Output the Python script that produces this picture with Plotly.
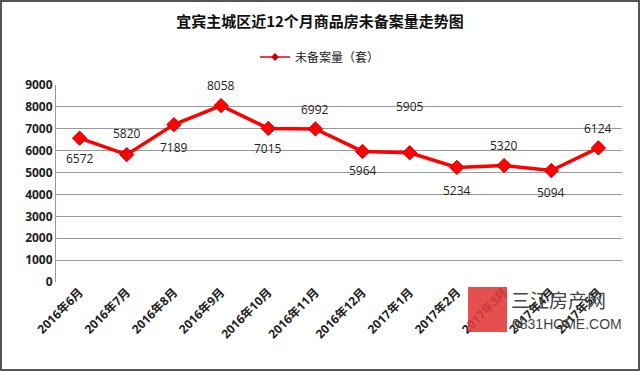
import plotly.graph_objects as go

categories = ["2016年6月", "2016年7月", "2016年8月", "2016年9月", "2016年10月", "2016年11月",
              "2016年12月", "2017年1月", "2017年2月", "2017年3月", "2017年4月", "2017年5月"]
values = [6572, 5820, 7189, 8058, 7015, 6992, 5964, 5905, 5234, 5320, 5094, 6124]
y_ticks = [0, 1000, 2000, 3000, 4000, 5000, 6000, 7000, 8000, 9000]
series_name = "未备案量（套）"
title_text = "宜宾主城区近12个月商品房未备案量走势图"

# label vertical offsets in pixels (style only)
label_shift = [-20, 21, -23, 20, -20, 19, -19, 46, -23, 20, -22, 19]

W, H = 640, 371
ml, mr, mt, mb = 56, 18, 85, 89
pw, ph = W - ml - mr, H - mt - mb

fig = go.Figure()
fig.add_trace(go.Scatter(
    x=categories, y=values, name=series_name, mode="lines+markers", showlegend=False,
    line=dict(color="#ff0000", width=3.5),
    marker=dict(symbol="diamond", size=11, color="#ff0000", line=dict(color="#cc0000", width=1)),
))
# legend entry with a smaller marker, as in the reference
fig.add_trace(go.Scatter(
    x=[None], y=[None], name=series_name, mode="lines+markers", showlegend=True,
    line=dict(color="#e00000", width=1.5),
    marker=dict(symbol="diamond", size=6, color="#cc0000"),
))

annotations = []
for c, v, s in zip(categories, values, label_shift):
    annotations.append(dict(x=c, y=v, text=str(v), showarrow=False, yshift=s,
                            font=dict(family="Open Sans, Noto Sans CJK SC", size=12, color="#222")))

# watermark
annotations.append(dict(xref="paper", yref="paper", x=(509 - ml) / pw, y=(H - mb - 299) / ph,
                        text="三江房产网", showarrow=False, xanchor="left", yanchor="middle",
                        font=dict(family="Noto Sans CJK SC", size=19, color="#444")))
annotations.append(dict(xref="paper", yref="paper", x=(510 - ml) / pw, y=(H - mb - 324) / ph,
                        text="0831HOME.COM", showarrow=False, xanchor="left", yanchor="middle",
                        font=dict(family="Liberation Sans Narrow, Liberation Sans", size=14, color="#444")))

shapes = [
    dict(type="rect", xref="paper", yref="paper",
         x0=(1 - ml) / pw, x1=(W - 1 - ml) / pw, y0=(H - mb - (H - 1)) / ph, y1=(H - mb - 1) / ph,
         line=dict(color="#555", width=2), fillcolor="rgba(0,0,0,0)", layer="above"),
    dict(type="rect", xref="paper", yref="paper",
         x0=(468 - ml) / pw, x1=(507 - ml) / pw, y0=(H - mb - 332) / ph, y1=(H - mb - 287) / ph,
         line=dict(width=0), fillcolor="rgba(225,60,60,0.9)", layer="above"),
]

fig.update_layout(
    width=W, height=H,
    margin=dict(l=ml, r=mr, t=mt, b=mb, autoexpand=False),
    paper_bgcolor="white", plot_bgcolor="white",
    title=dict(text="<b>" + title_text + "</b>", x=0.5, xref="container", xanchor="center",
               y=1 - 22 / H, yanchor="middle",
               font=dict(family="Noto Sans CJK SC", size=15, color="#111")),
    showlegend=True,
    legend=dict(orientation="h", x=0.5, xanchor="center", xref="container",
                y=1 - 57 / H, yref="container", yanchor="middle",
                itemwidth=30,
                font=dict(family="Noto Sans CJK SC", size=12, color="#222")),
    xaxis=dict(type="category", tickangle=-45, showgrid=False, showline=False, zeroline=False,
               automargin=False, range=[-0.5, len(categories) - 0.5],
               ticks="", tickfont=dict(family="Open Sans, Noto Sans CJK SC", size=12, color="#222", weight="bold")),
    yaxis=dict(range=[0, 9000], tickvals=y_ticks, showgrid=True, gridcolor="#999", gridwidth=1,
               automargin=False,
               showline=True, linecolor="#999", zeroline=False, ticks="",
               tickfont=dict(family="Open Sans", size=12, color="#222", weight="bold")),
    annotations=annotations, shapes=shapes,
)
fig.write_html("out.html", config={"displayModeBar": False},
               post_script="document.body.style.margin='0';document.body.style.padding='0';")
